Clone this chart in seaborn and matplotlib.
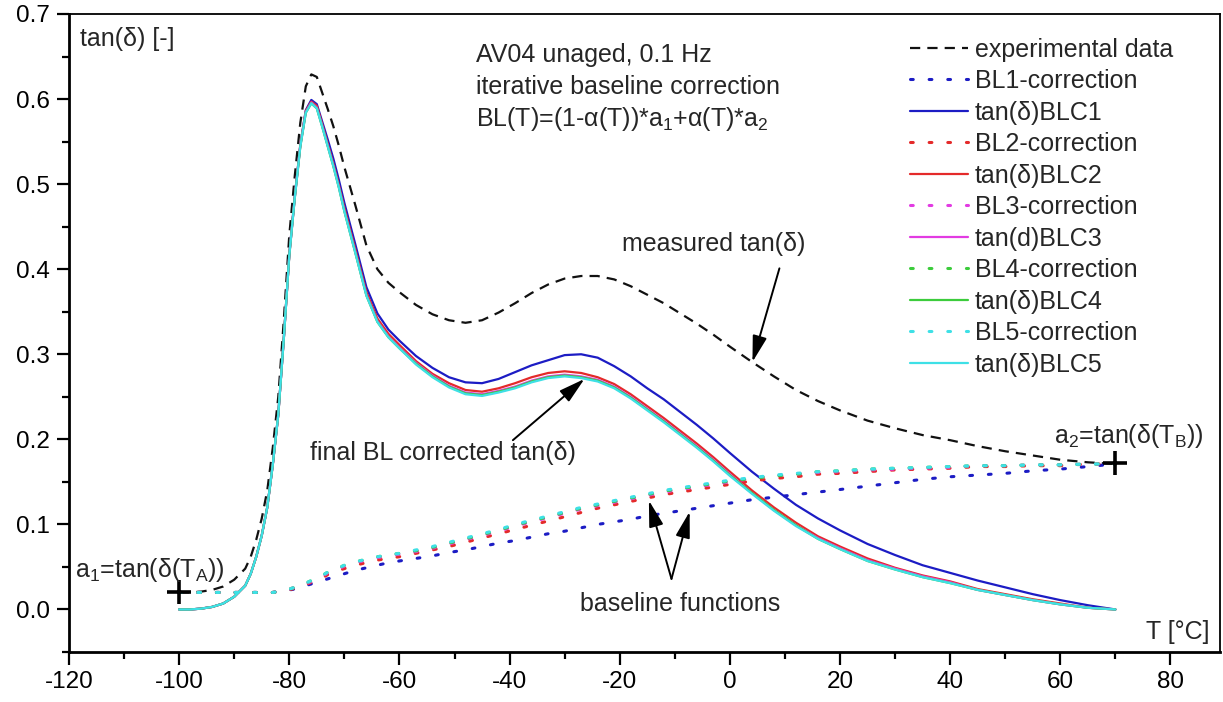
import matplotlib
matplotlib.use("Agg")
import matplotlib.pyplot as plt
from matplotlib.ticker import MultipleLocator, FormatStrFormatter
import seaborn as sns
import pandas as pd

# temperature grid [°C]
T = [-100, -98, -96, -94, -92, -90, -88, -87, -86, -85, -84, -83, -82,
     -81, -80, -79, -78, -77, -76, -75, -74, -73, -72, -71, -70,
     -68, -66, -64, -62, -60,
     -57, -54, -51, -48, -45, -42, -39, -36, -33, -30, -27, -24, -21, -18, -15, -12, -9, -6, -3,
     0, 4, 8, 12, 16, 20,
     25, 30, 35, 40, 45, 50, 55, 60, 65, 70]

# measured loss factor
exp_data = [0.020, 0.020, 0.021, 0.023, 0.027, 0.035, 0.048, 0.062, 0.082, 0.107, 0.140, 0.190, 0.250,
            0.340, 0.440, 0.510, 0.572, 0.615, 0.629, 0.626, 0.607, 0.588, 0.568, 0.545, 0.520,
            0.475, 0.428, 0.400, 0.384, 0.373,
            0.358, 0.347, 0.340, 0.337, 0.340, 0.349, 0.360, 0.372, 0.382, 0.389, 0.392, 0.392, 0.388, 0.380, 0.370, 0.360, 0.348, 0.336, 0.323,
            0.309, 0.291, 0.274, 0.258, 0.245, 0.234,
            0.222, 0.213, 0.205, 0.199, 0.192, 0.186, 0.181, 0.176, 0.173, 0.171]

# baseline iterations
bl1 = [0.020, 0.020, 0.020, 0.020, 0.020, 0.020, 0.020, 0.020, 0.020, 0.020, 0.020, 0.020, 0.021,
       0.022, 0.023, 0.024, 0.026, 0.028, 0.030, 0.032, 0.034, 0.036, 0.038, 0.040, 0.042,
       0.046, 0.049, 0.052, 0.055, 0.057,
       0.060, 0.063, 0.067, 0.070, 0.074, 0.078, 0.081, 0.085, 0.089, 0.092, 0.096, 0.100, 0.103, 0.106, 0.110, 0.113, 0.116, 0.119, 0.122,
       0.125, 0.129, 0.132, 0.135, 0.138, 0.141,
       0.145, 0.149, 0.153, 0.156, 0.158, 0.160, 0.163, 0.165, 0.168, 0.171]
bl2 = [0.020, 0.020, 0.020, 0.020, 0.020, 0.020, 0.020, 0.020, 0.020, 0.020, 0.020, 0.020, 0.021,
       0.022, 0.023, 0.025, 0.026, 0.029, 0.032, 0.034, 0.037, 0.041, 0.044, 0.046, 0.048,
       0.052, 0.055, 0.058, 0.060, 0.062,
       0.066, 0.070, 0.074, 0.079, 0.084, 0.089, 0.094, 0.099, 0.104, 0.109, 0.114, 0.119, 0.123, 0.127, 0.131, 0.135, 0.138, 0.141, 0.144,
       0.147, 0.151, 0.154, 0.156, 0.159, 0.160,
       0.162, 0.164, 0.165, 0.166, 0.168, 0.168, 0.169, 0.169, 0.171, 0.171]
bl3 = [0.020, 0.020, 0.020, 0.020, 0.020, 0.020, 0.020, 0.020, 0.020, 0.020, 0.020, 0.020, 0.021,
       0.022, 0.024, 0.026, 0.027, 0.030, 0.033, 0.036, 0.039, 0.043, 0.046, 0.048, 0.051,
       0.055, 0.058, 0.061, 0.063, 0.065,
       0.068, 0.072, 0.077, 0.082, 0.087, 0.092, 0.098, 0.103, 0.108, 0.113, 0.118, 0.122, 0.126, 0.130, 0.134, 0.138, 0.141, 0.144, 0.147,
       0.150, 0.154, 0.157, 0.159, 0.161, 0.162,
       0.164, 0.165, 0.166, 0.167, 0.169, 0.169, 0.170, 0.170, 0.171, 0.171]
bl4 = [0.020, 0.020, 0.020, 0.020, 0.020, 0.020, 0.020, 0.020, 0.020, 0.020, 0.020, 0.020, 0.021,
       0.022, 0.024, 0.026, 0.028, 0.031, 0.034, 0.037, 0.040, 0.044, 0.047, 0.049, 0.052,
       0.056, 0.059, 0.062, 0.064, 0.066,
       0.069, 0.073, 0.078, 0.083, 0.088, 0.093, 0.099, 0.104, 0.109, 0.114, 0.119, 0.123, 0.127, 0.131, 0.135, 0.139, 0.142, 0.145, 0.148,
       0.151, 0.154, 0.157, 0.159, 0.162, 0.163,
       0.165, 0.166, 0.167, 0.168, 0.169, 0.169, 0.170, 0.170, 0.171, 0.171]
bl5 = [0.020, 0.020, 0.020, 0.020, 0.020, 0.020, 0.020, 0.020, 0.020, 0.020, 0.020, 0.020, 0.021,
       0.022, 0.024, 0.026, 0.028, 0.031, 0.034, 0.037, 0.040, 0.044, 0.047, 0.049, 0.052,
       0.056, 0.059, 0.062, 0.064, 0.066,
       0.070, 0.074, 0.079, 0.084, 0.089, 0.094, 0.100, 0.105, 0.110, 0.115, 0.120, 0.124, 0.128, 0.132, 0.136, 0.140, 0.143, 0.146, 0.149,
       0.152, 0.155, 0.158, 0.160, 0.162, 0.163,
       0.165, 0.166, 0.167, 0.168, 0.169, 0.169, 0.170, 0.170, 0.171, 0.171]

# baseline-corrected loss factor after each iteration
blc1 = [0.000, 0.000, 0.001, 0.003, 0.007, 0.015, 0.028, 0.042, 0.062, 0.087, 0.120, 0.170, 0.229,
        0.318, 0.417, 0.486, 0.546, 0.587, 0.599, 0.594, 0.573, 0.552, 0.530, 0.505, 0.478,
        0.429, 0.379, 0.348, 0.329, 0.316,
        0.298, 0.284, 0.273, 0.267, 0.266, 0.271, 0.279, 0.287, 0.293, 0.299, 0.300, 0.296, 0.286, 0.274, 0.260, 0.247, 0.232, 0.217, 0.201,
        0.184, 0.162, 0.142, 0.123, 0.107, 0.093,
        0.077, 0.064, 0.052, 0.043, 0.034, 0.026, 0.018, 0.011, 0.005, 0.000]
blc2 = [0.000, 0.000, 0.001, 0.003, 0.007, 0.015, 0.028, 0.042, 0.062, 0.087, 0.120, 0.170, 0.229,
        0.318, 0.417, 0.485, 0.546, 0.586, 0.597, 0.592, 0.570, 0.547, 0.524, 0.499, 0.472,
        0.423, 0.373, 0.342, 0.324, 0.311,
        0.292, 0.277, 0.266, 0.258, 0.256, 0.260, 0.266, 0.273, 0.278, 0.280, 0.278, 0.273, 0.265, 0.253, 0.239, 0.225, 0.210, 0.195, 0.179,
        0.162, 0.140, 0.120, 0.102, 0.086, 0.074,
        0.060, 0.049, 0.040, 0.033, 0.024, 0.018, 0.012, 0.007, 0.002, 0.000]
blc3 = [0.000, 0.000, 0.001, 0.003, 0.007, 0.015, 0.028, 0.042, 0.062, 0.087, 0.120, 0.170, 0.229,
        0.318, 0.416, 0.484, 0.545, 0.585, 0.596, 0.590, 0.568, 0.545, 0.522, 0.497, 0.469,
        0.420, 0.370, 0.339, 0.321, 0.308,
        0.290, 0.275, 0.263, 0.255, 0.253, 0.257, 0.262, 0.269, 0.274, 0.276, 0.274, 0.270, 0.262, 0.250, 0.236, 0.222, 0.207, 0.192, 0.176,
        0.159, 0.137, 0.117, 0.099, 0.084, 0.072,
        0.058, 0.048, 0.039, 0.032, 0.023, 0.017, 0.011, 0.006, 0.002, 0.000]
blc4 = [0.000, 0.000, 0.001, 0.003, 0.007, 0.015, 0.028, 0.042, 0.062, 0.087, 0.120, 0.170, 0.229,
        0.318, 0.416, 0.484, 0.544, 0.584, 0.595, 0.589, 0.567, 0.544, 0.521, 0.496, 0.468,
        0.419, 0.369, 0.338, 0.320, 0.307,
        0.289, 0.274, 0.262, 0.254, 0.252, 0.256, 0.261, 0.268, 0.273, 0.275, 0.273, 0.269, 0.261, 0.249, 0.235, 0.221, 0.206, 0.191, 0.175,
        0.158, 0.137, 0.117, 0.099, 0.083, 0.071,
        0.057, 0.047, 0.038, 0.031, 0.023, 0.017, 0.011, 0.006, 0.002, 0.000]
blc5 = [0.000, 0.000, 0.001, 0.003, 0.007, 0.015, 0.028, 0.042, 0.062, 0.087, 0.120, 0.170, 0.229,
        0.318, 0.416, 0.484, 0.544, 0.584, 0.595, 0.589, 0.567, 0.544, 0.521, 0.496, 0.468,
        0.419, 0.369, 0.338, 0.320, 0.307,
        0.288, 0.273, 0.261, 0.253, 0.251, 0.255, 0.260, 0.267, 0.272, 0.274, 0.272, 0.268, 0.260, 0.248, 0.234, 0.220, 0.205, 0.190, 0.174,
        0.157, 0.136, 0.116, 0.098, 0.083, 0.071,
        0.057, 0.047, 0.038, 0.031, 0.023, 0.017, 0.011, 0.006, 0.002, 0.000]

# anchor points of the baseline
anchor_T = [-100, 70]
anchor_val = [0.020, 0.172]

series = [
    ("experimental data", exp_data, "#111111", "dash"),
    ("BL1-correction", bl1, "#1c1cc4", "dot"),
    ("tan(δ)BLC1", blc1, "#1c1cc4", "solid"),
    ("BL2-correction", bl2, "#e42a2a", "dot"),
    ("tan(δ)BLC2", blc2, "#e42a2a", "solid"),
    ("BL3-correction", bl3, "#e23be2", "dot"),
    ("tan(d)BLC3", blc3, "#e23be2", "solid"),
    ("BL4-correction", bl4, "#3ccc3c", "dot"),
    ("tan(δ)BLC4", blc4, "#3ccc3c", "solid"),
    ("BL5-correction", bl5, "#3ee0e6", "dot"),
    ("tan(δ)BLC5", blc5, "#3ee0e6", "solid"),
]

sns.set_style("ticks")
plt.rcParams["font.family"] = ["Liberation Sans", "DejaVu Sans"]
plt.rcParams["mathtext.fontset"] = "custom"
plt.rcParams["mathtext.rm"] = "Liberation Sans"
plt.rcParams["mathtext.it"] = "Liberation Sans"
plt.rcParams["axes.unicode_minus"] = False

FS = 18
TICK_FS = 17.5

fig = plt.figure(figsize=(12.23, 7.02), dpi=100)
ax = fig.add_axes([69 / 1223, 1 - 652 / 702, (1220 - 69) / 1223, (652 - 14) / 702])

for name, values, color, kind in series:
    df = pd.DataFrame({"T": T, "val": values})
    if kind == "dash":
        style = dict(linestyle=(0, (4.6, 3.2)), linewidth=1.6)
    elif kind == "dot":
        style = dict(linestyle=(0, (0.9, 5.2)), linewidth=2.2, dash_capstyle="round")
    else:
        style = dict(linestyle="-", linewidth=1.6)
    sns.lineplot(data=df, x="T", y="val", ax=ax, color=color, label=name,
                 estimator=None, sort=False, **style)

ax.plot(anchor_T, anchor_val, linestyle="none", marker="+", markersize=17,
        markeredgewidth=2.6, color="black")

ax.set_xlim(-120, 89)
ax.set_ylim(-0.05, 0.7)
ax.xaxis.set_major_locator(MultipleLocator(20))
ax.xaxis.set_minor_locator(MultipleLocator(10))
ax.yaxis.set_major_locator(MultipleLocator(0.1))
ax.yaxis.set_minor_locator(MultipleLocator(0.05))
ax.yaxis.set_major_formatter(FormatStrFormatter("%.1f"))
ax.set_xlabel("")
ax.set_ylabel("")
ax.tick_params(which="major", direction="out", length=9, width=1.6,
               labelsize=TICK_FS, pad=5, color="black", labelcolor="black")
ax.tick_params(which="minor", direction="out", length=5, width=1.6, color="black")
ax.tick_params(top=False, right=False, which="both")
for side in ["left", "bottom"]:
    ax.spines[side].set_linewidth(2.0)
for side in ["top", "right"]:
    ax.spines[side].set_linewidth(1.3)
for s in ax.spines.values():
    s.set_color("black")

leg = ax.legend(loc="upper left", bbox_to_anchor=(0.7307, 0.963), frameon=False,
                fontsize=FS, handlelength=2.3, handletextpad=0.3, labelspacing=0.3,
                borderpad=0, borderaxespad=0)

# in-plot texts
ax.text(-118, 0.671, "tan(δ) [-]", fontsize=FS, ha="left", va="center")
ax.text(-46.1, 0.652, "AV04 unaged, 0.1 Hz", fontsize=FS, ha="left", va="center")
ax.text(-46.1, 0.614, "iterative baseline correction", fontsize=FS, ha="left", va="center")
ax.text(-46.1, 0.576, r"BL(T)=(1-α(T))*a$_1$+α(T)*a$_2$", fontsize=FS, ha="left", va="center")
ax.text(-19.6, 0.430, "measured tan(δ)", fontsize=FS, ha="left", va="center")
ax.text(-76.3, 0.184, "final BL corrected tan(δ)", fontsize=FS, ha="left", va="center")
ax.text(-27.3, 0.007, "baseline functions", fontsize=FS, ha="left", va="center")
ax.text(-118.9, 0.038, r"a$_1$=tan(δ(T$_A$))", fontsize=FS, ha="left", va="baseline")
ax.text(58.9, 0.196, r"a$_2$=tan(δ(T$_B$))", fontsize=FS, ha="left", va="baseline")
ax.text(87.1, -0.027, "T [°C]", fontsize=FS, ha="right", va="center")

arrow = dict(arrowstyle="-|>,head_length=0.8,head_width=0.22", color="black",
             lw=1.4, mutation_scale=20, shrinkA=0, shrinkB=0)
ax.annotate("", xy=(4.1, 0.291), xytext=(9.0, 0.401), arrowprops=arrow)
ax.annotate("", xy=(-26.4, 0.271), xytext=(-39.4, 0.199), arrowprops=arrow)
ax.annotate("", xy=(-14.7, 0.128), xytext=(-10.6, 0.036), arrowprops=arrow)
ax.annotate("", xy=(-7.3, 0.115), xytext=(-10.6, 0.036), arrowprops=arrow)

fig.savefig("out.png", dpi=100)
